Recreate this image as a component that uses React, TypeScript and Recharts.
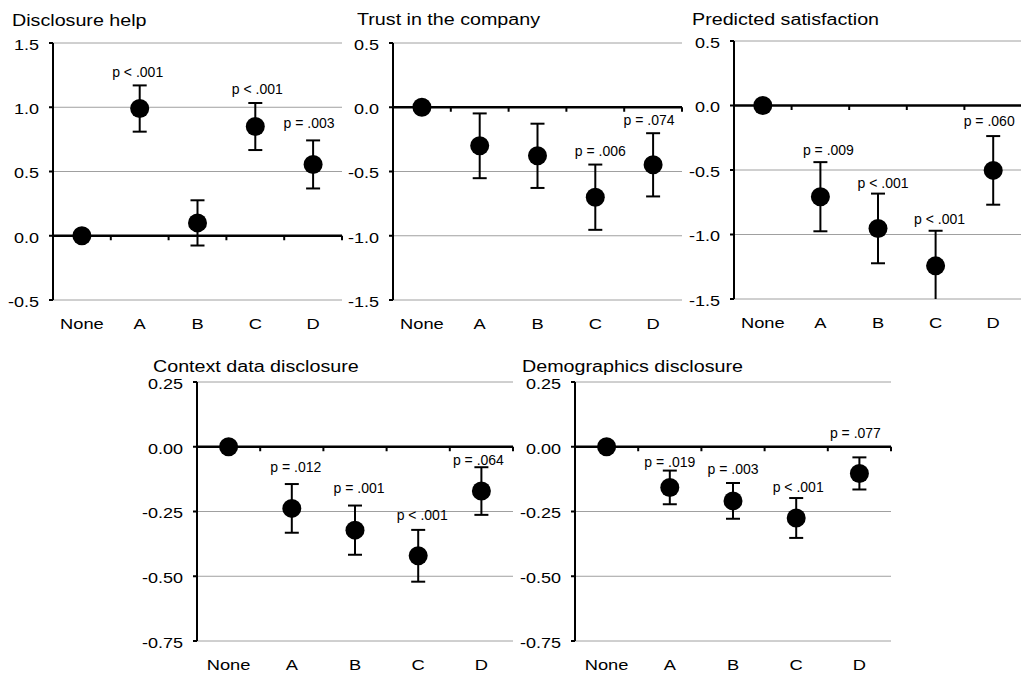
import React from 'react';
import { ScatterChart, Scatter, XAxis, YAxis, CartesianGrid, ErrorBar, ReferenceLine } from 'recharts';

// ---------- data ----------
const categories = ['None', 'A', 'B', 'C', 'D'];

const helpTitle = 'Disclosure help';
const helpMeans = [0, 0.99, 0.1, 0.85, 0.555];
const helpErrors = [0, 0.18, 0.176, 0.183, 0.187];
const helpP = ['', 'p < .001', '', 'p < .001', 'p = .003'];
const helpTicks = [-0.5, 0, 0.5, 1, 1.5];

const trustTitle = 'Trust in the company';
const trustMeans = [0, -0.3, -0.378, -0.7, -0.448];
const trustErrors = [0, 0.252, 0.25, 0.254, 0.246];
const trustP = ['', '', '', 'p = .006', 'p = .074'];
const trustTicks = [-1.5, -1, -0.5, 0, 0.5];

const satTitle = 'Predicted satisfaction';
const satMeans = [0, -0.707, -0.953, -1.243, -0.503];
const satErrors = [0, 0.268, 0.27, 0.272, 0.266];
const satP = ['', 'p = .009', 'p < .001', 'p < .001', 'p = .060'];
const satTicks = [-1.5, -1, -0.5, 0, 0.5];

const contextTitle = 'Context data disclosure';
const contextMeans = [0, -0.238, -0.322, -0.421, -0.171];
const contextErrors = [0, 0.094, 0.095, 0.1, 0.092];
const contextP = ['', 'p = .012', 'p = .001', 'p < .001', 'p = .064'];
const contextTicks = [-0.75, -0.5, -0.25, 0, 0.25];

const demoTitle = 'Demographics disclosure';
const demoMeans = [0, -0.157, -0.209, -0.275, -0.103];
const demoErrors = [0, 0.065, 0.069, 0.077, 0.062];
const demoP = ['', 'p = .019', 'p = .003', 'p < .001', 'p = .077'];
const demoTicks = [-0.75, -0.5, -0.25, 0, 0.25];

// ---------- layout / style ----------
const FONT = "'Liberation Sans', Arial, Helvetica, sans-serif";

type Nudge = [number, number];
interface PanelCfg {
  title: string;
  means: number[];
  errors: number[];
  p: string[];
  ticks: number[];
  decimals: number;
  plot: { left: number; top: number; right: number; bottom: number };
  titlePos: { left: number; baseline: number };
  nudges: Nudge[];
}

const panels: PanelCfg[] = [
  {
    title: helpTitle, means: helpMeans, errors: helpErrors, p: helpP, ticks: helpTicks, decimals: 1,
    plot: { left: 53, top: 43, right: 342, bottom: 300 },
    titlePos: { left: 12, baseline: 26.5 },
    nudges: [[0, 0], [-2, 0], [0, 0], [2, 1], [-4, 4]],
  },
  {
    title: trustTitle, means: trustMeans, errors: trustErrors, p: trustP, ticks: trustTicks, decimals: 1,
    plot: { left: 393, top: 43, right: 682, bottom: 300 },
    titlePos: { left: 356.5, baseline: 25.5 },
    nudges: [[0, 0], [0, 0], [0, 0], [5, 1], [-4, 0]],
  },
  {
    title: satTitle, means: satMeans, errors: satErrors, p: satP, ticks: satTicks, decimals: 1,
    plot: { left: 734, top: 41, right: 1022, bottom: 299 },
    titlePos: { left: 691.5, baseline: 25 },
    nudges: [[0, 0], [8, -1], [5, -2], [4, -1], [-4, 2]],
  },
  {
    title: contextTitle, means: contextMeans, errors: contextErrors, p: contextP, ticks: contextTicks, decimals: 2,
    plot: { left: 197, top: 382, right: 513, bottom: 641 },
    titlePos: { left: 153, baseline: 372 },
    nudges: [[0, 0], [4, 4], [4, 5], [4, 2], [-3, -6]],
  },
  {
    title: demoTitle, means: demoMeans, errors: demoErrors, p: demoP, ticks: demoTicks, decimals: 2,
    plot: { left: 575, top: 382, right: 891, bottom: 641 },
    titlePos: { left: 521.5, baseline: 372 },
    nudges: [[0, 0], [0, -4], [0, 1], [2, -2], [-4, 11]],
  },
];

const Y_W = 60;
const TOP = 45;
const RIGHT = 6;
const X_H = 36;

const CatTick = (props: any) => {
  const { x, y, payload } = props;
  const label = categories[Math.floor(payload.value)] ?? '';
  return (
    <g transform={`translate(${x},${y}) scale(1.22,1)`}>
      <text x={0} y={0} dy="0.71em" textAnchor="middle" fontFamily={FONT} fontSize={15} fill="#000">
        {label}
      </text>
    </g>
  );
};

const makeValTick = (decimals: number) => (props: any) => {
  const { x, y, payload } = props;
  return (
    <g transform={`translate(${x},${y + 1.5}) scale(1.2,1)`}>
      <text x={0} y={0} dy="0.355em" textAnchor="end" fontFamily={FONT} fontSize={15} fill="#000">
        {Number(payload.value).toFixed(decimals)}
      </text>
    </g>
  );
};

const Dot = (props: any) => {
  const { cx, cy } = props;
  if (cx == null || cy == null) return <g />;
  return <circle cx={cx} cy={cy} r={9.5} fill="#000" />;
};

const ZeroAxis = (n: number) => (props: any) => {
  const { x1, y1, x2 } = props;
  const step = (x2 - x1) / n;
  const ticks = [];
  for (let i = 1; i <= n; i++) {
    const tx = x1 + step * i;
    ticks.push(<line key={i} x1={tx} x2={tx} y1={y1} y2={y1 + 4.5} stroke="#000" strokeWidth={2} />);
  }
  return (
    <g>
      <line x1={x1} x2={x2} y1={y1} y2={y1} stroke="#000" strokeWidth={2.5} />
      {ticks}
    </g>
  );
};

const upperOnly = (d: any) => [0, d.hi];
const lowerOnly = (d: any) => [d.lo, 0];

function Panel({ cfg }: { cfg: PanelCfg }) {
  const plotW = cfg.plot.right - cfg.plot.left;
  const plotH = cfg.plot.bottom - cfg.plot.top;
  const width = Y_W + plotW + RIGHT;
  const height = TOP + plotH + X_H;
  const n = categories.length;
  const dMin = cfg.ticks[0];
  const dMax = cfg.ticks[cfg.ticks.length - 1];

  const rows = categories.map((c, i) => ({
    x: i + 0.5,
    cat: c,
    y: cfg.means[i],
    hi: cfg.errors[i],
    lo: Math.min(cfg.errors[i], cfg.means[i] - dMin),
    over: cfg.means[i] - cfg.errors[i] < dMin,
  }));
  const normal = rows.filter((r) => !r.over);
  const overflow = rows.filter((r) => r.over);

  const labels = categories
    .map((c, i) => ({ x: i + 0.5, top: cfg.means[i] + cfg.errors[i], p: cfg.p[i], i }))
    .filter((d) => d.p);

  const LabelShape = (props: any) => {
    const { cx, cy, payload } = props;
    if (cx == null || cy == null || !payload) return <g />;
    const [dx, dy] = cfg.nudges[payload.i] || [0, 0];
    return (
      <text x={cx + dx} y={cy - 8 - dy} textAnchor="middle" fontFamily={FONT} fontSize={14} fill="#000">
        {payload.p}
      </text>
    );
  };

  return (
    <>
      <div
        style={{
          position: 'absolute',
          left: cfg.titlePos.left,
          top: cfg.titlePos.baseline - 13.5,
          fontFamily: FONT,
          fontSize: 16,
          lineHeight: '16px',
          whiteSpace: 'nowrap',
          color: '#000',
          transform: 'scaleX(1.23)',
          transformOrigin: '0 0',
        }}
      >
        {cfg.title}
      </div>
      <div style={{ position: 'absolute', left: cfg.plot.left - Y_W, top: cfg.plot.top - TOP }}>
        <ScatterChart width={width} height={height} margin={{ top: TOP, right: RIGHT, bottom: 0, left: 0 }}>
          <CartesianGrid vertical={false} stroke="#a0a0a0" strokeWidth={1} />
          <XAxis
            type="number"
            dataKey="x"
            domain={[0, n]}
            ticks={categories.map((_, i) => i + 0.5)}
            interval={0}
            axisLine={false}
            tickLine={false}
            tickSize={0}
            tickMargin={18}
            height={X_H}
            tick={<CatTick />}
          />
          <YAxis
            type="number"
            domain={[dMin, dMax]}
            ticks={cfg.ticks}
            interval={0}
            width={Y_W}
            allowDataOverflow
            axisLine={{ stroke: '#000', strokeWidth: 2 }}
            tickLine={{ stroke: '#000', strokeWidth: 2 }}
            tickSize={4}
            tickMargin={10}
            tick={makeValTick(cfg.decimals)}
          />
          <ReferenceLine y={0} shape={ZeroAxis(n)} />
          <Scatter data={normal} dataKey="y" isAnimationActive={false} shape={Dot}>
            <ErrorBar dataKey="hi" direction="y" width={7} stroke="#000" strokeWidth={2} isAnimationActive={false} />
          </Scatter>
          {overflow.length > 0 && (
            <Scatter data={overflow} dataKey="y" isAnimationActive={false} shape={Dot}>
              <ErrorBar dataKey={upperOnly} direction="y" width={7} stroke="#000" strokeWidth={2} isAnimationActive={false} />
              <ErrorBar dataKey={lowerOnly} direction="y" width={0} stroke="#000" strokeWidth={2} isAnimationActive={false} />
            </Scatter>
          )}
          <Scatter data={labels} dataKey="top" isAnimationActive={false} shape={LabelShape} />
        </ScatterChart>
      </div>
    </>
  );
}

export default function App() {
  return (
    <div
      style={{
        position: 'absolute',
        left: 0,
        top: 0,
        width: 1021,
        height: 673,
        background: '#fff',
        overflow: 'hidden',
      }}
    >
      {panels.map((cfg) => (
        <Panel key={cfg.title} cfg={cfg} />
      ))}
    </div>
  );
}
